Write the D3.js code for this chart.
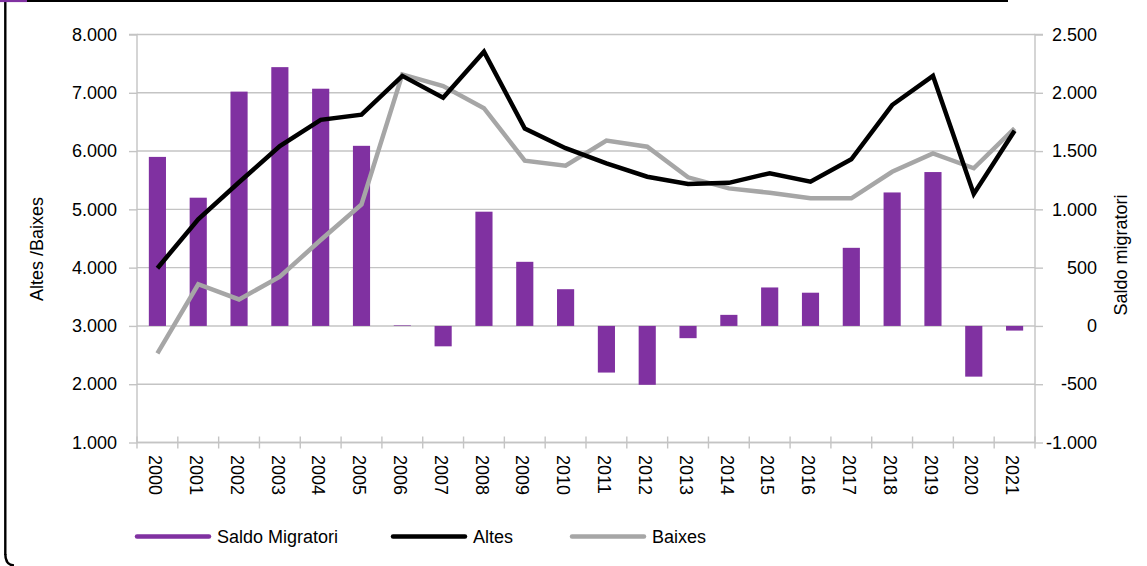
<!DOCTYPE html>
<html>
<head>
<meta charset="utf-8">
<script src="https://cdn.jsdelivr.net/npm/d3@7"></script>
<style>
  html, body { margin: 0; padding: 0; background: #fff; }
  svg { display: block; }
  text { font-family: "Liberation Sans", Arial, sans-serif; fill: #000; }
</style>
</head>
<body>
<svg id="chart" width="1147" height="566"></svg>
<script>
// Years on the category axis
const years = ["2000","2001","2002","2003","2004","2005","2006","2007","2008","2009","2010",
               "2011","2012","2013","2014","2015","2016","2017","2018","2019","2020","2021"];

// Saldo migratori (right axis)
const saldo = [1450, 1100, 2010, 2220, 2035, 1545, 5, -175, 980, 550, 315,
               -400, -505, -105, 95, 330, 285, 670, 1145, 1320, -435, -40];

// Altes (left axis)
const altes = [3990, 4830, 5465, 6085, 6535, 6625, 7290, 6915, 7705, 6385, 6050,
               5790, 5560, 5435, 5455, 5620, 5475, 5860, 6790, 7290, 5265, 6350];

// Baixes (left axis)
const baixes = [2530, 3715, 3455, 3845, 4475, 5085, 7315, 7115, 6735, 5835, 5750,
                6180, 6075, 5550, 5360, 5285, 5190, 5190, 5645, 5960, 5705, 6390];

// Tick values
const leftTicks = [1000, 2000, 3000, 4000, 5000, 6000, 7000, 8000];
const rightTicks = [-1000, -500, 0, 500, 1000, 1500, 2000, 2500];

const legendItems = [
  { label: "Saldo Migratori", color: "#8031a1" },
  { label: "Altes", color: "#000000" },
  { label: "Baixes", color: "#a6a6a6" }
];

const PURPLE = "#8031a1", GREY = "#a6a6a6", GRID = "#c4c4c4";

const svg = d3.select("#chart");

// Catalan number format: 8.000, -1.000
const ca = d3.formatLocale({ decimal: ",", thousands: ".", grouping: [3], currency: ["", " €"], minus: "-" });
const fmt = ca.format(",.0f");

const plotL = 137, plotR = 1035, plotT = 34.5, plotB = 442.5;

const x = d3.scaleBand().domain(years).range([plotL, plotR]).padding(0);
const yL = d3.scaleLinear().domain([1000, 8000]).range([plotB, plotT]);
const yR = d3.scaleLinear().domain([-1000, 2500]).range([plotB, plotT]);

// Frame around the panel
svg.append("path")
  .attr("d", `M5.3,554 Q5.3,565 14,565.5`)
  .attr("fill", "none").attr("stroke", "#000").attr("stroke-width", 2.4);
svg.append("line").attr("x1", 5.3).attr("x2", 5.3).attr("y1", 0).attr("y2", 555)
  .attr("stroke", "#000").attr("stroke-width", 2.4);
svg.append("line").attr("x1", 27).attr("x2", 1008).attr("y1", 1).attr("y2", 1)
  .attr("stroke", "#000").attr("stroke-width", 2.2);
svg.append("line").attr("x1", 0).attr("x2", 27).attr("y1", 1).attr("y2", 1)
  .attr("stroke", PURPLE).attr("stroke-width", 2.2);

// Horizontal gridlines
svg.append("g").selectAll("line").data(leftTicks).join("line")
  .attr("x1", plotL).attr("x2", plotR)
  .attr("y1", d => yL(d)).attr("y2", d => yL(d))
  .attr("stroke", GRID).attr("stroke-width", 1.4);

// Left axis
const gL = svg.append("g").attr("transform", `translate(${plotL},0)`)
  .call(d3.axisLeft(yL).tickValues(leftTicks).tickFormat(fmt).tickSize(8).tickPadding(12));
gL.select(".domain").attr("stroke", GRID).attr("stroke-width", 1.4).attr("d", `M-8,${plotT}H0V${plotB}`);
gL.selectAll(".tick line").attr("stroke", GRID).attr("stroke-width", 1.4);
gL.selectAll(".tick text").style("font-size", "18px").attr("fill", "#000")
  .style("font-family", "'Liberation Sans', Arial, sans-serif");

// Right axis, labels right aligned
const gR = svg.append("g").attr("transform", `translate(${plotR},0)`)
  .call(d3.axisRight(yR).tickValues(rightTicks).tickFormat(fmt).tickSize(8));
gR.select(".domain").attr("stroke", GRID).attr("stroke-width", 1.4).attr("d", `M8,${plotT}H0V${plotB}`);
gR.selectAll(".tick line").attr("stroke", GRID).attr("stroke-width", 1.4);
gR.selectAll(".tick text").style("font-size", "18px").attr("fill", "#000")
  .attr("text-anchor", "end").attr("x", 62)
  .style("font-family", "'Liberation Sans', Arial, sans-serif");

// Category axis line and ticks at band edges
svg.append("line").attr("x1", plotL).attr("x2", plotR).attr("y1", plotB).attr("y2", plotB)
  .attr("stroke", GRID).attr("stroke-width", 1.4);
const edges = years.map(d => x(d)).concat([x(years[years.length - 1]) + x.bandwidth()]);
svg.append("g").selectAll("line").data(edges).join("line")
  .attr("x1", d => d).attr("x2", d => d)
  .attr("y1", plotB - 6).attr("y2", plotB + 6)
  .attr("stroke", GRID).attr("stroke-width", 1.4);

// Rotated year labels
svg.append("g").selectAll("text").data(years).join("text")
  .attr("transform", d => `translate(${x(d) + x.bandwidth() / 2 - 2},455) rotate(90)`)
  .attr("dy", "0.35em")
  .attr("text-anchor", "start")
  .style("font-size", "18px")
  .text(d => d);

// Bars (Saldo migratori)
const barW = x.bandwidth() * 0.42, barOff = x.bandwidth() * 0.29;
svg.append("g").selectAll("rect").data(years).join("rect")
  .attr("x", d => x(d) + barOff)
  .attr("width", barW)
  .attr("y", (d, i) => yR(Math.max(0, saldo[i])))
  .attr("height", (d, i) => Math.abs(yR(saldo[i]) - yR(0)))
  .attr("fill", PURPLE);

// Lines
const line = d3.line()
  .x(d => x(d.year) + x.bandwidth() / 2)
  .y(d => yL(d.v));

svg.append("path")
  .datum(years.map((y, i) => ({ year: y, v: baixes[i] })))
  .attr("d", line).attr("fill", "none")
  .attr("stroke", GREY).attr("stroke-width", 4.5).attr("stroke-linejoin", "miter");

svg.append("path")
  .datum(years.map((y, i) => ({ year: y, v: altes[i] })))
  .attr("d", line).attr("fill", "none")
  .attr("stroke", "#000").attr("stroke-width", 4.5).attr("stroke-linejoin", "miter");

// Axis titles
svg.append("text")
  .attr("transform", "translate(43,249) rotate(-90)")
  .attr("text-anchor", "middle")
  .style("font-size", "18px")
  .text("Altes /Baixes");

svg.append("text")
  .attr("transform", "translate(1127,255) rotate(-90)")
  .attr("text-anchor", "middle")
  .style("font-size", "18px")
  .text("Saldo migratori");

// Legend
const legendX = [137, 393, 572];
const lg = svg.append("g").selectAll("g").data(legendItems).join("g")
  .attr("transform", (d, i) => `translate(${legendX[i]},536.5)`);
lg.append("line").attr("x1", 0).attr("x2", 72).attr("y1", 0).attr("y2", 0)
  .attr("stroke", d => d.color).attr("stroke-width", 4.5).attr("stroke-linecap", "round");
lg.append("text").attr("x", 80).attr("dy", "0.35em")
  .style("font-size", "18px")
  .text(d => d.label);
</script>
</body>
</html>
